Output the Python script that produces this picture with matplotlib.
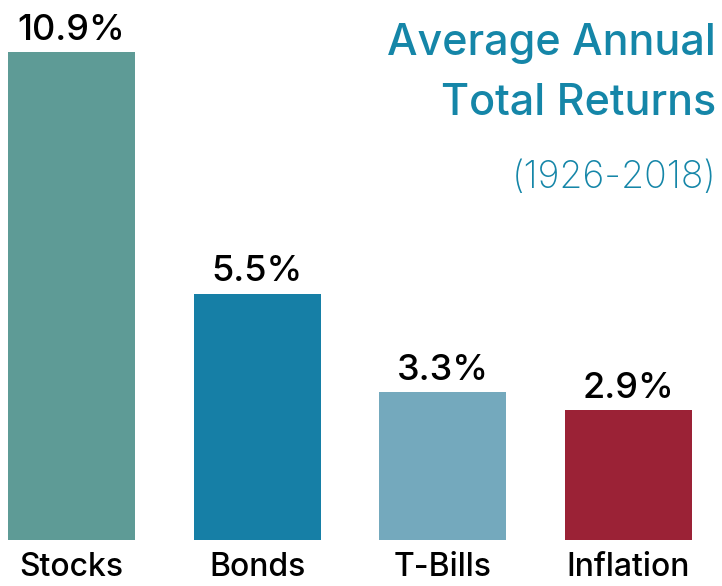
import matplotlib
matplotlib.use("Agg")
import matplotlib.pyplot as plt

# data
categories = ["Stocks", "Bonds", "T-Bills", "Inflation"]
returns = [10.9, 5.5, 3.3, 2.9]
bar_colors = ["#5E9B96", "#167FA6", "#74A9BD", "#9B2236"]
title_lines = ["Average Annual", "Total Returns"]
period = "(1926-2018)"

plt.rcParams['font.family'] = ['Inter', 'DejaVu Sans']

fig = plt.figure(figsize=(7.22, 5.86), dpi=100)
ax = fig.add_axes([0, 1 - 540 / 586, 1, 540 / 586])

x = range(len(categories))
ax.bar(x, returns, width=0.684, color=bar_colors)
ax.set_xlim(-0.385, 3.504)
ax.set_ylim(0, 10.9 * 540 / 488)

# value labels on top of the bars
for xi, v in zip(x, returns):
    ax.annotate(f"{v}%", (xi, v), xytext=(0, 9), textcoords='offset points',
                ha='center', va='baseline', fontsize=26, fontweight='medium', color='black')

ax.set_xticks(list(x))
ax.set_xticklabels(categories, fontsize=23, fontweight='medium')
ax.tick_params(axis='x', length=0, pad=9)
ax.set_yticks([])
for s in ax.spines.values():
    s.set_visible(False)

# title block, right aligned
title_col = "#1586A8"
fig.text(716 / 722, 1 - 55 / 586, title_lines[0], ha='right', va='baseline',
         fontsize=31, fontweight='medium', color=title_col)
fig.text(716 / 722, 1 - 115 / 586, title_lines[1], ha='right', va='baseline',
         fontsize=31, fontweight='medium', color=title_col)
fig.text(716 / 722, 1 - 188 / 586, period, ha='right', va='baseline',
         fontsize=27, fontweight='light', color=title_col)

fig.savefig("out.png", dpi=100)
